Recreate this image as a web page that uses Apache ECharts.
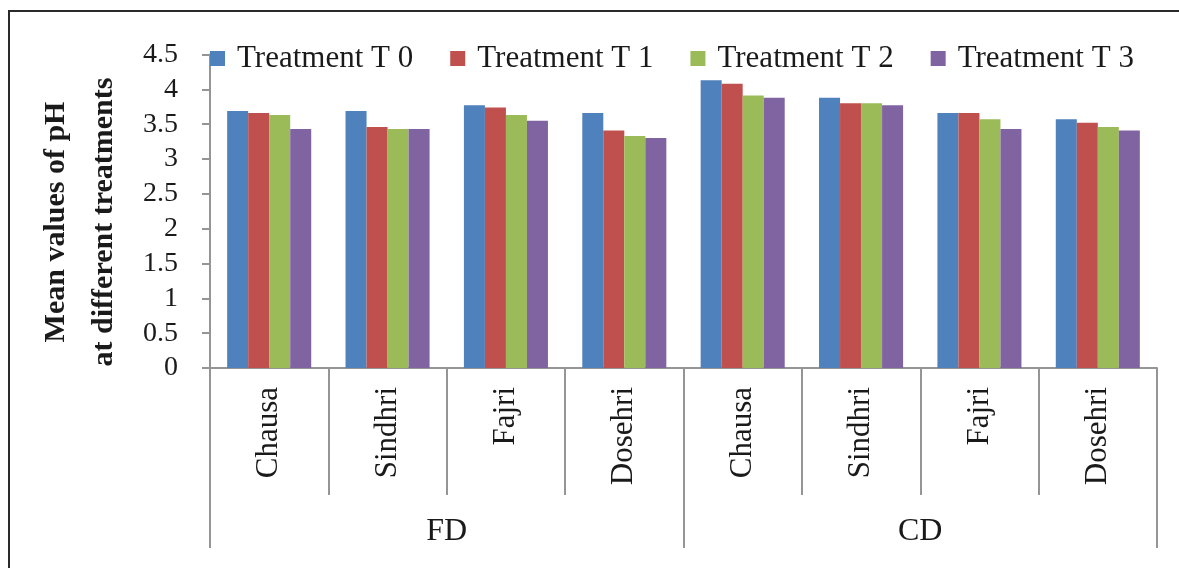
<!DOCTYPE html>
<html>
<head>
<meta charset="utf-8">
<script src="https://cdn.jsdelivr.net/npm/echarts@6/dist/echarts.min.js"></script>
<style>
  html, body { margin: 0; padding: 0; background: #fff; }
  #chart { width: 1179px; height: 568px; }
</style>
</head>
<body>
<div id="chart"></div>
<script>
// Mango varieties, grouped by drying method
const varieties = ['Chausa', 'Sindhri', 'Fajri', 'Dosehri', 'Chausa', 'Sindhri', 'Fajri', 'Dosehri'];
const methods = ['FD', 'CD'];
const yTicks = [0, 4.5, 0.5]; // min, max, step

// Mean pH per treatment
const treatmentNames = ['Treatment T 0', 'Treatment T 1', 'Treatment T 2', 'Treatment T 3'];
const t0 = [3.69, 3.69, 3.77, 3.66, 4.13, 3.88, 3.66, 3.57];
const t1 = [3.66, 3.46, 3.74, 3.41, 4.08, 3.80, 3.66, 3.52];
const t2 = [3.63, 3.43, 3.63, 3.33, 3.91, 3.80, 3.57, 3.46];
const t3 = [3.43, 3.43, 3.55, 3.30, 3.88, 3.77, 3.43, 3.41];

const colors = ['#4F81BD', '#C0504D', '#9BBB59', '#8064A2'];
const serif = '"Liberation Serif", "DejaVu Serif", serif';
const axisGray = '#959595';
const textColor = '#1a1a1a';

const chart = echarts.init(document.getElementById('chart'));

const seriesValues = [t0, t1, t2, t3];
const series = seriesValues.map((vals, i) => ({
  name: treatmentNames[i],
  type: 'bar',
  xAxisIndex: 0,
  yAxisIndex: 0,
  data: vals,
  barGap: '0%',
  barCategoryGap: '29%',
  itemStyle: { color: colors[i] },
  emphasis: { disabled: true }
}));

chart.setOption({
  backgroundColor: '#fff',
  animation: false,
  color: colors,
  grid: { left: 210, right: 22, top: 54.5, bottom: 200, containLabel: false },
  legend: {
    left: 210,
    top: 43,
    padding: 0,
    itemWidth: 15,
    itemHeight: 15,
    itemGap: 37,
    icon: 'rect',
    data: treatmentNames,
    textStyle: {
      fontFamily: serif,
      fontSize: 31,
      color: textColor,
      lineHeight: 30,
      padding: [0, 0, 0, 7]
    }
  },
  xAxis: [
    {
      type: 'category',
      position: 'bottom',
      data: varieties,
      axisLine: { show: true, lineStyle: { color: axisGray, width: 2 } },
      axisTick: { show: true, interval: 0, length: 127, lineStyle: { color: axisGray, width: 2 } },
      axisLabel: {
        interval: 0,
        rotate: 90,
        margin: 19,
        fontFamily: serif,
        fontSize: 31,
        color: textColor
      },
      splitLine: { show: false }
    },
    {
      type: 'category',
      position: 'bottom',
      data: methods,
      axisLine: { show: false },
      axisTick: { show: true, interval: 0, length: 180, lineStyle: { color: axisGray, width: 2 } },
      axisLabel: {
        interval: 0,
        margin: 148,
        fontFamily: serif,
        fontSize: 32,
        color: textColor
      },
      splitLine: { show: false }
    }
  ],
  yAxis: {
    type: 'value',
    min: yTicks[0],
    max: yTicks[1],
    interval: yTicks[2],
    axisLine: { show: true, lineStyle: { color: axisGray, width: 2 } },
    axisTick: { show: true, length: 8, lineStyle: { color: axisGray, width: 2 } },
    axisLabel: {
      margin: 32,
      fontFamily: serif,
      fontSize: 28,
      color: textColor
    },
    splitLine: { show: false }
  },
  graphic: [
    {
      type: 'rect',
      silent: true,
      shape: { x: 9, y: 11, width: 1300, height: 700 },
      style: { fill: 'none', stroke: '#2a2a2a', lineWidth: 2 }
    },
    {
      type: 'text',
      silent: true,
      x: 80,
      y: 222,
      rotation: Math.PI / 2,
      style: {
        text: 'Mean values of pH\nat different treatments',
        font: 'bold 30px ' + serif,
        lineHeight: 48,
        fill: textColor,
        align: 'center',
        verticalAlign: 'middle'
      }
    }
  ],
  series: series
});
</script>
</body>
</html>
